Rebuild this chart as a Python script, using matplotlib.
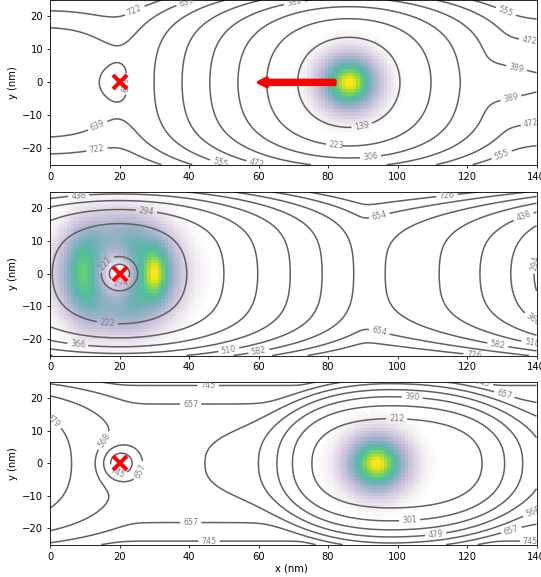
import numpy as np
import matplotlib
matplotlib.use("Agg")
import matplotlib.pyplot as plt
from matplotlib.colors import ListedColormap

# ---------------- data ----------------
x_ticks = [0, 20, 40, 60, 80, 100, 120, 140]
y_ticks = [-20, -10, 0, 10, 20]
x_range = [0, 140]
y_range = [-25, 25]

levels_1 = [139, 223, 306, 389, 472, 555, 639, 722]
levels_2 = [222, 294, 366, 438, 510, 582, 654, 726]
levels_3 = [212, 301, 390, 479, 568, 657, 745]

# red cross marker (impurity position) in each panel
marker_x = [20, 20, 20]
marker_y = [0, 0, 0]

# red arrow in panel 1 (start -> end)
arrow_start = [82, 0]
arrow_end = [60, 0]

# potential-landscape terms per panel (combined with a smooth minimum)
# kind, centre x, base, amp, radius, power, stretch right, stretch left,
# wall amp, wall power, amp2, radius2
terms_1 = [
    ("const", 0, 558, 0, 1, 1, 1.0, 1.0, 236, 2.66, 0, 1),
    ("cone", 86, 56, 106.6, 10, 1, 1.0, 1.0, 130, 4.4, 0, 1),
    ("cone", 86, 288, 1.67, 1, 1, 1.0, 4.0, 251, 1.4, 0, 1),
]
bumps_1 = [  # term index, x, y, amplitude, sigma x, sigma y
    (0, 20, 0, 63.5, 8, 20),
    (0, 20, 0, 75, 4.5, 3.5),
]
terms_2 = [
    ("cone", 20, 150, 141, 17.1, 1, 1.0, 1.0, 205, 4.4, 0, 1),
    ("log", 160, 290, 257, 20.4, 1, 1.0, 1.0, 237, 4.2, 0, 1),
]
bumps_2 = [
    (0, 20, 0, 200, 3.5, 3.5),
]
terms_3 = [
    ("cone", -20, 316, 13.4, 2, 1, 1.0, 1.0, 156, 4.15, 0, 1),
    ("const", 0, 615, 0, 1, 1, 1.0, 1.0, 156, 4.15, 0, 1),
    ("sgauss", 98, 123, 275, 32.3, 5, 0.86, 1.0, 350, 2.75, 250, 50),
]
bumps_3 = [
    (-1, 20, 0, 240, 3.8, 3.8),
]
smooth_k = [15, 10, 10]

# electron density blobs: x, y, amplitude, sigma x, sigma y
density_1 = [(86, 0, 1.0, 4.8, 4.8)]
density_2 = [(30, 0, 1.0, 2.7, 5.5), (10, 0, 0.62, 3.2, 8.0), (24, 0, 0.5, 2.5, 7.0)]
ring_2 = (20, 0, 0.5, 11, 5.0, 3.2)  # x, y, amplitude, radius, width, hole radius
density_3 = [(94, 0, 1.0, 5.0, 5.0)]


# ---------------- helpers ----------------
def term_value(X, Y, t):
    kind, xc, z0, amp, R, p, sxr, sxl, wa, wn, amp2, R2 = t
    dx = X - xc
    dx = np.where(dx > 0, dx * sxr, dx * sxl)
    r = np.hypot(dx, Y)
    if kind == "const":
        v = np.full_like(X, z0, dtype=float)
    elif kind == "cone":
        v = z0 + amp * ((1 + (r / R) ** 2) ** (p / 2) - 1)
    elif kind == "log":
        v = z0 + amp * 0.5 * np.log((r ** 2 + 1.0) / R ** 2)
    else:
        v = (z0 + amp * (1 - np.exp(-(r / R) ** p))
             + amp2 * (1 - np.exp(-(r / R2) ** 2)))
    return v + wa * (np.abs(Y) / 25.0) ** wn


def gauss(X, Y, b):
    _, bx, by, A, sx, sy = b
    return A * np.exp(-((X - bx) ** 2 / (2 * sx ** 2) + (Y - by) ** 2 / (2 * sy ** 2)))


def field(X, Y, terms, bumps, k):
    vals = []
    for i, t in enumerate(terms):
        v = term_value(X, Y, t)
        for b in bumps:
            if b[0] == i:
                v = v + gauss(X, Y, b)
        vals.append(v)
    V = np.array(vals)
    m = V.min(axis=0)
    Z = m - k * np.log(np.exp(-(V - m) / k).sum(axis=0))
    for b in bumps:
        if b[0] == -1:
            Z = Z + gauss(X, Y, b)
    return Z


def density(X, Y, lobes, ring=None):
    D = np.zeros_like(X)
    for (bx, by, A, sx, sy) in lobes:
        D += A * np.exp(-((X - bx) ** 2 / (2 * sx ** 2) + (Y - by) ** 2 / (2 * sy ** 2)))
    if ring is not None:
        rx, ry, A, R, w, h = ring
        r = np.hypot(X - rx, Y - ry)
        D += A * np.exp(-((r - R) / w) ** 2 / 2)
        D *= 1 - np.exp(-r ** 2 / (2 * h ** 2))
    return D / D.max()


# viridis with an alpha ramp (transparent for low density)
tt = np.linspace(0, 1, 256)
base = plt.get_cmap("viridis")(tt)
base[:, 3] = np.clip(tt ** 0.7 * 1.1, 0, 1)
dens_cmap = ListedColormap(base)

# grids
xs = np.linspace(x_range[0], x_range[1], 561)
ys = np.linspace(y_range[0], y_range[1], 201)
X, Y = np.meshgrid(xs, ys)
xc_ = np.arange(x_range[0], x_range[1], 1.0) + 0.5
yc_ = np.arange(y_range[0], y_range[1], 1.0) + 0.5
XD, YD = np.meshgrid(xc_, yc_)

panels = [
    (terms_1, bumps_1, smooth_k[0], levels_1, density(XD, YD, density_1)),
    (terms_2, bumps_2, smooth_k[1], levels_2, density(XD, YD, density_2, ring_2)),
    (terms_3, bumps_3, smooth_k[2], levels_3, density(XD, YD, density_3)),
]

W, H = 541, 577
fig = plt.figure(figsize=(W / 100, H / 100), dpi=100)
boxes = [(50, 0, 536.5, 164.7), (50, 191.9, 536.5, 355.5), (50, 382, 536.5, 544.6)]

for i, ((terms, bumps, k, levels, dens), box) in enumerate(zip(panels, boxes)):
    l, t, r, b = box
    ax = fig.add_axes([l / W, 1 - b / H, (r - l) / W, (b - t) / H])
    ax.imshow(dens, extent=[x_range[0], x_range[1], y_range[0], y_range[1]],
              origin="lower", aspect="auto", cmap=dens_cmap, vmin=0, vmax=1,
              interpolation="nearest", zorder=1)
    Z = field(X, Y, terms, bumps, k)
    cs = ax.contour(X, Y, Z, levels=levels, colors="0.38", linewidths=1.1, zorder=2)
    ax.clabel(cs, fmt="%d", fontsize=5.8, colors="0.5", inline=True, inline_spacing=3)
    ax.plot(marker_x[i], marker_y[i], marker="x", color="red", markersize=10,
            markeredgewidth=2.9, zorder=5)
    if i == 0:
        ax.arrow(arrow_start[0], arrow_start[1], arrow_end[0] - arrow_start[0] + 2.5,
                 arrow_end[1] - arrow_start[1], width=1.2, head_width=2.6,
                 head_length=2.5, color="red", linewidth=2.5, joinstyle="round",
                 capstyle="round", zorder=5)
    ax.set_xlim(x_range)
    ax.set_ylim(y_range)
    ax.set_xticks(x_ticks)
    ax.set_yticks(y_ticks)
    ax.set_ylabel("y (nm)", fontsize=7.2)
    ax.yaxis.set_label_coords(-0.066, 0.5)
    if i == 2:
        ax.set_xlabel("x (nm)", fontsize=7.2)
        ax.xaxis.set_label_coords(0.497, -0.118)
    ax.tick_params(labelsize=7.2, length=2.5, width=0.6, pad=2.5)
    for sp in ax.spines.values():
        sp.set_linewidth(0.6)

fig.savefig("out.png", dpi=100)
